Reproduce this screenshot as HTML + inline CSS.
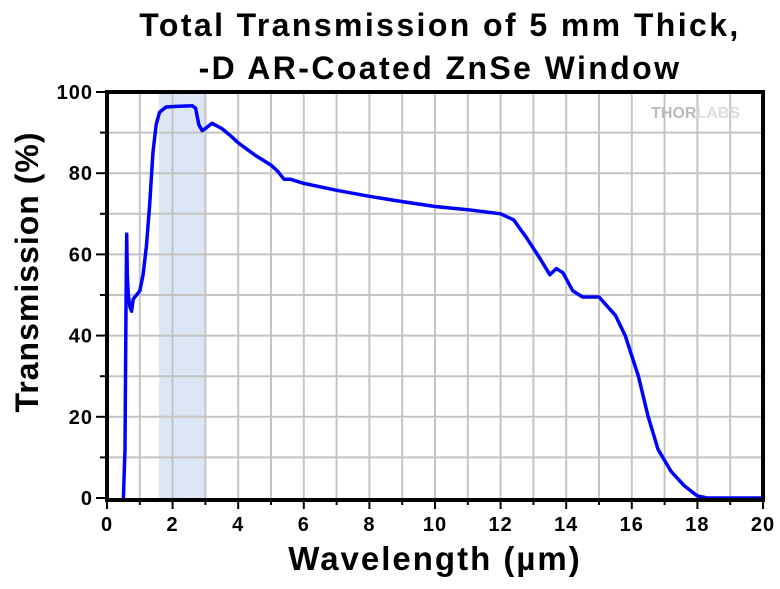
<!DOCTYPE html><html><head><style>body{margin:0;background:#fff}svg text{font-family:"Liberation Sans",Arial,sans-serif;font-weight:bold}</style></head><body>
<svg width="780" height="584" viewBox="0 0 780 584" xmlns="http://www.w3.org/2000/svg">
<rect x="159" y="92" width="46" height="406" fill="#dce6f5"/>
<g stroke="#c4c4c4" stroke-width="2" id="grid"></g>
<text x="740" y="118" font-size="16" fill="#bbb" text-anchor="end">THOR<tspan fill="#ddd">LABS</tspan></text>
<polyline id="curve" fill="none" stroke="#0000ff" stroke-width="3.5" stroke-linejoin="round"/>
<g stroke="#000" stroke-width="4" fill="none"><path d="M107 90V500H763V90M105 92H765"/></g>
<g id="ticks" stroke="#000" stroke-width="2"></g>
<g id="labs" font-size="20" fill="#000" letter-spacing="1"></g>
<text x="440" y="36" font-size="32" letter-spacing="2.4" text-anchor="middle">Total Transmission of 5 mm Thick,</text>
<text x="440" y="79" font-size="32" letter-spacing="2.4" text-anchor="middle">-D AR-Coated ZnSe Window</text>
<text x="435" y="570" font-size="33" letter-spacing="2" text-anchor="middle">Wavelength (µm)</text>
<text transform="translate(38,272) rotate(-90)" font-size="32" letter-spacing="1" text-anchor="middle">Transmission (%)</text>
</svg>
<script>
var X=w=>107+32.8*w,Y=t=>498-4.06*t,ns="http://www.w3.org/2000/svg";
function el(p,t,a){var e=document.createElementNS(ns,t);for(var k in a)e.setAttribute(k,a[k]);document.getElementById(p).appendChild(e);return e}
for(var i=1;i<20;i++)el("grid","line",{x1:X(i),x2:X(i),y1:92,y2:498});
for(var i=1;i<10;i++)el("grid","line",{x1:107,x2:763,y1:Y(i*10),y2:Y(i*10)});
for(var i=0;i<=20;i++){el("ticks","line",{x1:X(i),x2:X(i),y1:500,y2:i%2?505:509});if(i%2==0){var t=el("labs","text",{x:X(i),y:531,"text-anchor":"middle"});t.textContent=i;}}
for(var i=0;i<=10;i++){el("ticks","line",{x1:105,x2:i%2?100:96,y1:Y(i*10),y2:Y(i*10)});if(i%2==0){var t=el("labs","text",{x:93,y:Y(i*10)+7,"text-anchor":"end"});t.textContent=i*10;}}
var d=[[0.45,0],[0.5,0],[0.55,12],[0.58,47],[0.6,65],[0.62,55],[0.65,50],[0.7,47],[0.75,46],[0.8,49],[0.9,50],[1.0,51],[1.1,55],[1.2,62],[1.3,72],[1.4,85],[1.5,92],[1.6,95],[1.8,96.3],[2.2,96.5],[2.6,96.6],[2.7,96],[2.8,92],[2.9,90.5],[3.0,91],[3.2,92.3],[3.5,91],[3.8,89],[4.0,87.5],[4.5,84.5],[5.0,82],[5.2,80.5],[5.4,78.5],[5.6,78.5],[6,77.5],[7,75.8],[8,74.3],[9,73],[10,71.8],[11,71],[12,70],[12.4,68.5],[12.8,64],[13.2,59],[13.5,55],[13.7,56.5],[13.9,55.5],[14.2,51],[14.5,49.5],[15,49.5],[15.5,45],[15.8,40],[16.2,30],[16.5,20],[16.8,12],[17.2,6.5],[17.6,3],[18,0.5],[18.3,0],[20,0]];
document.getElementById("curve").setAttribute("points",d.map(p=>X(p[0]).toFixed(1)+","+Y(p[1]).toFixed(1)).join(" "));
</script></body></html>
